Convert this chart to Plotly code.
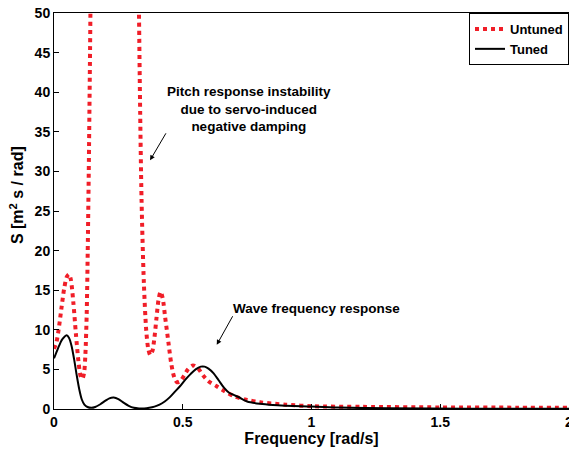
import plotly.graph_objects as go

# Untuned (red dotted) spectrum
untuned_x = [0.00, 0.01, 0.02, 0.03, 0.04, 0.05, 0.058, 0.065, 0.075, 0.085, 0.095, 0.103, 0.110,
             0.117, 0.122, 0.127, 0.131, 0.135, 0.139, 0.143, 0.15, 0.17, 0.20, 0.25, 0.30, 0.322,
             0.330, 0.334, 0.340, 0.349, 0.358, 0.366, 0.374, 0.382, 0.390, 0.398, 0.406, 0.414,
             0.422, 0.432, 0.444, 0.455, 0.466, 0.477, 0.490, 0.505, 0.520, 0.540, 0.560, 0.580,
             0.600, 0.630, 0.660, 0.700, 0.750, 0.800, 0.900, 1.000, 1.200, 1.500, 1.800, 2.000]
untuned_y = [7.6, 8.5, 10.5, 13.0, 15.3, 16.7, 17.0, 16.4, 13.5, 9.5, 6.0, 4.2, 3.8,
             4.6, 7.0, 12.0, 20.0, 30.0, 42.0, 55.0, 80.0, 130.0, 180.0, 200.0, 140.0, 70.0,
             50.0, 39.0, 26.4, 15.9, 10.0, 7.6, 6.8, 7.3, 9.0, 11.5, 13.8, 14.8,
             14.0, 11.5, 8.5, 5.8, 4.1, 3.4, 3.5, 4.2, 5.0, 5.5, 5.1, 4.2,
             3.5, 2.9, 2.3, 1.6, 1.15, 0.85, 0.55, 0.35, 0.27, 0.2, 0.17, 0.15]

# Tuned (black solid) spectrum
tuned_x = [0.00, 0.01, 0.02, 0.03, 0.04, 0.049, 0.058, 0.068, 0.078, 0.088, 0.098, 0.108, 0.118,
           0.13, 0.145, 0.16, 0.18, 0.20, 0.215, 0.232, 0.25, 0.27, 0.29, 0.31, 0.33, 0.35,
           0.37, 0.39, 0.41, 0.43, 0.45, 0.47, 0.49, 0.51, 0.53, 0.55, 0.57, 0.585, 0.60,
           0.62, 0.64, 0.66, 0.68, 0.70, 0.72, 0.75, 0.80, 0.85, 0.90, 0.96, 1.00, 1.10,
           1.30, 1.60, 2.00]
tuned_y = [6.4, 7.2, 8.0, 8.7, 9.1, 9.3, 9.0, 8.0, 6.3, 4.3, 2.5, 1.2, 0.55,
           0.25, 0.15, 0.25, 0.6, 1.05, 1.35, 1.45, 1.25, 0.8, 0.4, 0.15, 0.07, 0.07,
           0.15, 0.3, 0.55, 0.95, 1.5, 2.2, 2.9, 3.7, 4.4, 5.0, 5.35, 5.35, 5.1,
           4.5, 3.6, 2.7, 2.05, 1.75, 1.45, 0.95, 0.65, 0.5, 0.42, 0.35, 0.3, 0.18,
           0.08, 0.04, 0.02]

x_ticks = [0, 0.5, 1, 1.5, 2]
x_tick_labels = ["0", "0.5", "1", "1.5", "2"]
y_ticks = [0, 5, 10, 15, 20, 25, 30, 35, 40, 45, 50]
y_tick_labels = [str(v) for v in y_ticks]

FONT = "Liberation Sans, Arial, sans-serif"

fig = go.Figure()
fig.add_trace(go.Scatter(
    x=untuned_x, y=untuned_y, mode="lines", name="Untuned",
    line=dict(color="rgb(240,30,40)", width=4, dash="dot", shape="spline", smoothing=0.8),
))
fig.add_trace(go.Scatter(
    x=tuned_x, y=tuned_y, mode="lines", name="Tuned",
    line=dict(color="black", width=2, shape="spline", smoothing=0.8),
))

fig.add_annotation(
    x=0.758, y=37.9, xref="x", yref="y",
    text="Pitch response instability<br>due to servo-induced<br>negative damping",
    showarrow=False, align="center",
    font=dict(family=FONT, size=13.5, color="black", weight="bold"),
)
fig.add_annotation(
    x=0.373, y=31.4, ax=0.438, ay=35.0, xref="x", yref="y", axref="x", ayref="y",
    text="", showarrow=True, arrowhead=2, arrowsize=1, arrowwidth=1, arrowcolor="black",
)
fig.add_annotation(
    x=1.02, y=12.75, xref="x", yref="y",
    text="Wave frequency response",
    showarrow=False, align="center",
    font=dict(family=FONT, size=13.5, color="black", weight="bold"),
)
fig.add_annotation(
    x=0.632, y=8.1, ax=0.697, ay=11.9, xref="x", yref="y", axref="x", ayref="y",
    text="", showarrow=True, arrowhead=2, arrowsize=1, arrowwidth=1, arrowcolor="black",
)
# y-axis title (placed as rotated text to match the reference position)
fig.add_annotation(
    x=-0.072, y=0.54, xref="paper", yref="paper",
    text="S [m<sup>2</sup> s / rad]", textangle=-90, showarrow=False,
    xanchor="center", yanchor="middle",
    font=dict(family=FONT, size=16, color="black", weight="bold"),
)

fig.update_layout(
    width=569, height=449,
    margin=dict(l=54, r=0, t=13, b=40, autoexpand=False),
    plot_bgcolor="white", paper_bgcolor="white",
    font=dict(family=FONT, color="black"),
    showlegend=True,
    legend=dict(
        x=1, y=1, xanchor="right", yanchor="top",
        bordercolor="black", borderwidth=1, bgcolor="white",
        font=dict(family=FONT, size=13, color="black", weight="bold"),
        tracegroupgap=0, itemwidth=30,
    ),
    xaxis=dict(
        range=[0, 2], tickvals=x_ticks, ticktext=x_tick_labels,
        ticks="inside", ticklen=5, tickcolor="black",
        showline=True, linecolor="black", linewidth=1, mirror=True,
        showgrid=False, zeroline=False, ticklabeloverflow="allow", automargin=False,
        tickfont=dict(family=FONT, size=14, color="black", weight="bold"),
        title=dict(text="Frequency [rad/s]", standoff=3,
                   font=dict(family=FONT, size=16, color="black", weight="bold")),
    ),
    yaxis=dict(
        range=[0, 50], tickvals=y_ticks, ticktext=y_tick_labels,
        ticks="inside", ticklen=5, tickcolor="black",
        showline=True, linecolor="black", linewidth=1, mirror=False,
        showgrid=False, zeroline=False, automargin=False,
        tickfont=dict(family=FONT, size=14, color="black", weight="bold"),
    ),
)

fig.write_html("out.html")
